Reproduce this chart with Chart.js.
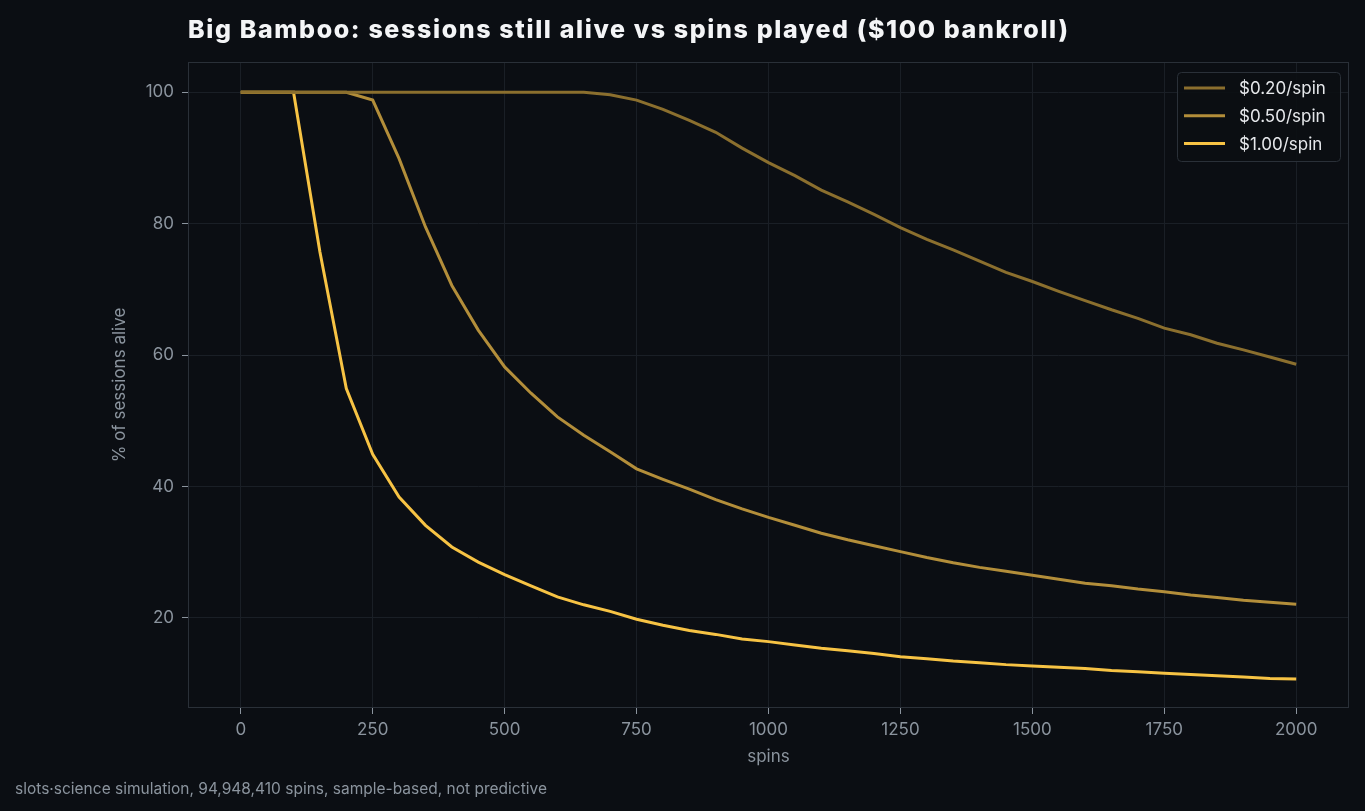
<!DOCTYPE html>
<html>
<head>
<meta charset="utf-8">
<script src="https://cdn.jsdelivr.net/npm/chart.js@4.4.1/dist/chart.umd.min.js"></script>
<style>
  html, body { margin: 0; padding: 0; background: #0b0e13; }
  #wrap { width: 1365px; height: 811px; position: relative; }
</style>
</head>
<body>
<div id="wrap"><canvas id="chart" width="1365" height="811"></canvas></div>
<script>
// DATA
const spins = [0, 50, 100, 150, 200, 250, 300, 350, 400, 450, 500, 550, 600, 650, 700, 750, 800, 850, 900, 950,
    1000, 1050, 1100, 1150, 1200, 1250, 1300, 1350, 1400, 1450, 1500, 1550, 1600, 1650, 1700, 1750, 1800, 1850, 1900, 1950, 2000];

const alive020 = [100, 100, 100, 100, 100, 100, 100, 100, 100, 100, 100, 100, 100, 100, 99.6, 98.8, 97.4, 95.7, 93.9, 91.5,
    89.3, 87.3, 85.1, 83.3, 81.4, 79.4, 77.6, 76.0, 74.3, 72.6, 71.2, 69.7, 68.3, 66.9, 65.6, 64.1, 63.1, 61.8, 60.8, 59.7, 58.6];

const alive050 = [100, 100, 100, 100, 100, 98.8, 89.9, 79.5, 70.6, 63.8, 58.2, 54.2, 50.6, 47.8, 45.3, 42.7, 41.1, 39.6, 38.0, 36.6,
    35.3, 34.1, 32.9, 31.9, 31.0, 30.1, 29.2, 28.4, 27.7, 27.1, 26.5, 25.9, 25.3, 24.9, 24.4, 24.0, 23.5, 23.1, 22.7, 22.4, 22.1];

const alive100 = [100, 100, 100, 75.7, 54.9, 44.9, 38.4, 34.1, 30.8, 28.5, 26.6, 24.9, 23.2, 22.0, 21.0, 19.8, 18.9, 18.1, 17.5, 16.8,
    16.4, 15.9, 15.4, 15.0, 14.6, 14.1, 13.8, 13.45, 13.2, 12.9, 12.7, 12.5, 12.3, 12.0, 11.8, 11.6, 11.4, 11.2, 11.0, 10.8, 10.7];

const xTicks = [0, 250, 500, 750, 1000, 1250, 1500, 1750, 2000];
const yTicks = [20, 40, 60, 80, 100];

const titleText = 'Big Bamboo: sessions still alive vs spins played ($100 bankroll)';
const footText = 'slots\u00b7science simulation, 94,948,410 spins, sample-based, not predictive';

const muted = '#8b949e';
const gridColor = '#1a1f26';
const frameColor = '#2a3038';
const FONT = 'Inter, "Noto Sans", sans-serif';

const toPoints = vals => vals.map((v, i) => ({ x: spins[i], y: v }));

// title, footer, frame and legend drawn on the canvas
const extras = {
    id: 'extras',
    afterDraw(chart) {
        const c = chart.ctx;
        const a = chart.chartArea;
        c.save();
        // frame
        c.strokeStyle = frameColor;
        c.lineWidth = 1;
        c.strokeRect(a.left + 0.5, a.top + 0.5, a.right - a.left - 1, a.bottom - a.top - 1);

        // title (wide geometric face in the original, so spread Inter a bit)
        c.fillStyle = '#f4f5f7';
        c.font = '800 25px ' + FONT;
        c.textBaseline = 'middle';
        c.textAlign = 'left';
        const w = c.measureText(titleText).width;
        c.letterSpacing = Math.max(0, (880 - w) / (titleText.length - 1)) + 'px';
        c.fillText(titleText, a.left, 30);
        c.letterSpacing = '0px';

        // footer
        c.fillStyle = muted;
        c.font = '15.5px ' + FONT;
        c.fillText(footText, 15, 789);

        // legend
        const ds = chart.data.datasets;
        const bx = 1177, by = 72, bw = 163, bh = 89;
        c.fillStyle = 'rgba(11,14,19,0.9)';
        c.strokeStyle = frameColor;
        c.beginPath();
        c.roundRect(bx + 0.5, by + 0.5, bw, bh, 4);
        c.fill();
        c.stroke();
        c.font = '17px ' + FONT;
        ds.forEach((d, i) => {
            const y = by + 16 + i * 27.8;
            c.strokeStyle = d.borderColor;
            c.lineWidth = 3;
            c.beginPath();
            c.moveTo(bx + 7, y);
            c.lineTo(bx + 48, y);
            c.stroke();
            c.fillStyle = '#e6e8eb';
            c.fillText(d.label, bx + 62, y + 1);
        });
        c.restore();
    }
};

new Chart(document.getElementById('chart'), {
    type: 'line',
    data: {
        datasets: [
            { label: '$0.20/spin', data: toPoints(alive020), borderColor: '#8b6f2e', borderWidth: 3 },
            { label: '$0.50/spin', data: toPoints(alive050), borderColor: '#b38e3a', borderWidth: 3 },
            { label: '$1.00/spin', data: toPoints(alive100), borderColor: '#f7c344', borderWidth: 3 }
        ]
    },
    options: {
        responsive: false,
        animation: false,
        events: [],
        layout: { padding: { left: 108, top: 62, right: 16, bottom: 41 } },
        elements: { point: { radius: 0 }, line: { tension: 0 } },
        plugins: { legend: { display: false }, tooltip: { enabled: false } },
        scales: {
            x: {
                type: 'linear',
                min: -100,
                max: 2100,
                afterFit: s => { s.height = 62; },
                afterBuildTicks: s => { s.ticks = xTicks.map(v => ({ value: v })); },
                grid: { color: gridColor, tickColor: muted, tickLength: 6 },
                border: { display: false },
                ticks: { color: muted, font: { family: FONT, size: 17 }, padding: 6, maxRotation: 0, callback: v => String(v) },
                title: { display: true, text: 'spins', color: muted, font: { family: FONT, size: 17 }, padding: { top: 4, bottom: 3 } }
            },
            y: {
                min: 6.3,
                max: 104.6,
                afterFit: s => { s.width = 80; },
                afterBuildTicks: s => { s.ticks = yTicks.map(v => ({ value: v })); },
                grid: { color: gridColor, tickColor: muted, tickLength: 6 },
                border: { display: false },
                ticks: { color: muted, font: { family: FONT, size: 17 }, padding: 8, callback: v => String(v) },
                title: { display: true, text: '% of sessions alive', color: muted, font: { family: FONT, size: 17 }, padding: { top: 2, bottom: 4 } }
            }
        }
    },
    plugins: [extras]
});
</script>
</body>
</html>
